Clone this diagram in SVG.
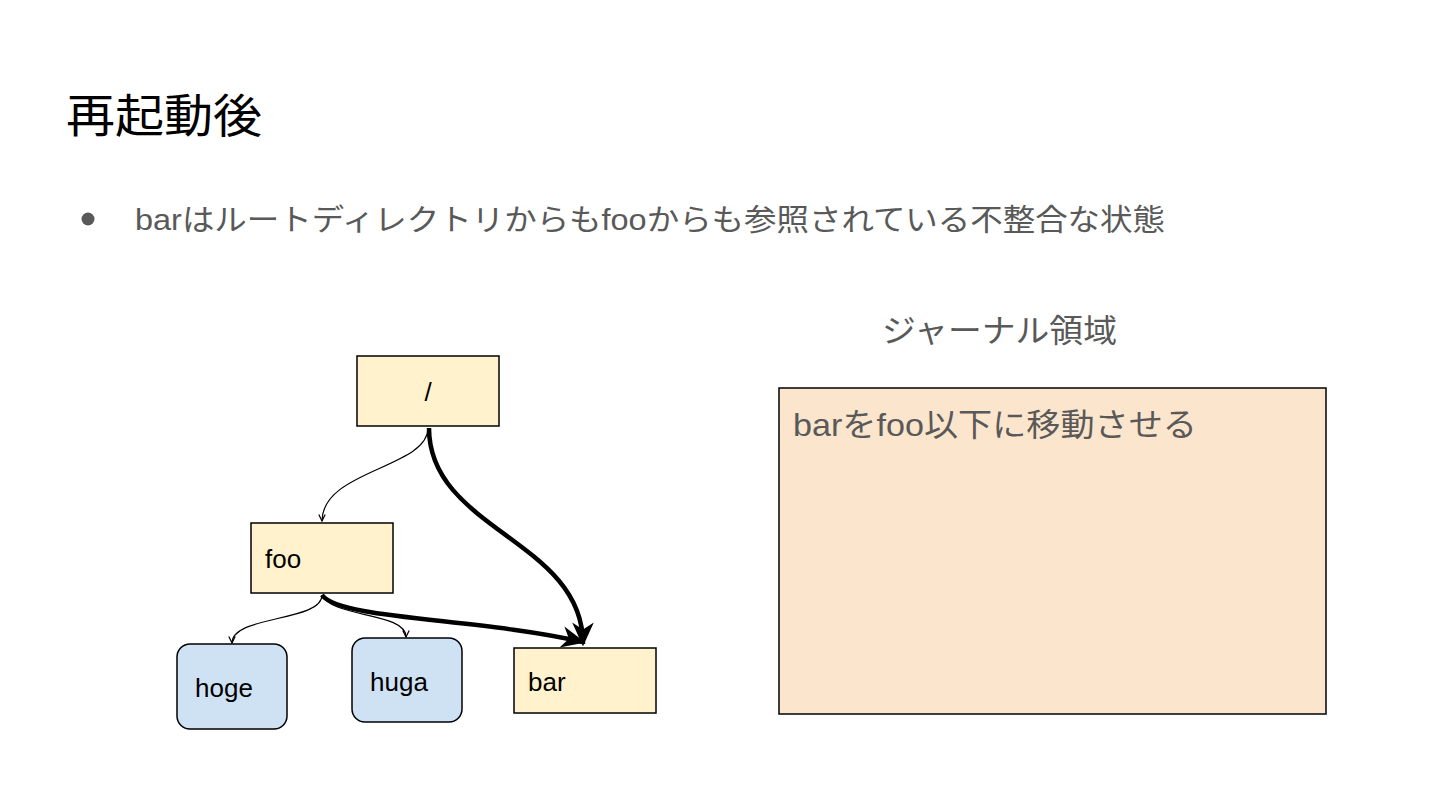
<svg xmlns="http://www.w3.org/2000/svg" width="1440" height="810" viewBox="0 0 1440 810">
<style>
text{font-family:"Liberation Sans","Noto Sans CJK JP",sans-serif}
.box{fill:#fff2cc;stroke:#000;stroke-width:1.5}
.rbox{fill:#cfe2f3;stroke:#000;stroke-width:1.5}
.lbl{font-size:26px;fill:#000}
.thin{fill:none;stroke:#000;stroke-width:1.2}
.thick{fill:none;stroke:#000;stroke-width:4.5}
.grey{fill:#595959}
</style>
<defs>
<marker id="aThin" viewBox="0 0 10 10" refX="9" refY="5" markerWidth="8" markerHeight="8" markerUnits="userSpaceOnUse" orient="auto">
<path d="M1,1 L9,5 L1,9" fill="none" stroke="#000" stroke-width="1.5"/>
</marker>
<marker id="aThick" viewBox="0 0 10 10" refX="9" refY="5" markerWidth="24" markerHeight="24" markerUnits="userSpaceOnUse" orient="auto">
<path d="M0,0.5 L10,5 L0,9.5 L3,5 Z" fill="#000"/>
</marker>
</defs>
<rect width="1440" height="810" fill="#fff"/>
<text x="66" y="132" font-size="46" fill="#000" textLength="196" lengthAdjust="spacingAndGlyphs">再起動後</text>
<circle cx="88" cy="219" r="6.5" class="grey"/>
<text x="135" y="230" font-size="30" class="grey" textLength="1030" lengthAdjust="spacingAndGlyphs">barはルートディレクトリからもfooからも参照されている不整合な状態</text>
<text x="882" y="342" font-size="32" class="grey" textLength="235" lengthAdjust="spacingAndGlyphs">ジャーナル領域</text>
<g id="journal">
<rect x="779" y="388" width="547" height="326" fill="#fce5cd" stroke="#000" stroke-width="1.5"/>
<text x="793" y="436" font-size="32" class="grey" textLength="404" lengthAdjust="spacingAndGlyphs">barをfoo以下に移動させる</text>
</g>
<g id="connectors">
<path class="thin" d="M428,428 C428,468 322,470 322,521" marker-end="url(#aThin)"/>
<path class="thick" d="M429,428 C429,530 583,540 583,644" marker-end="url(#aThick)"/>
<path class="thin" d="M322,595 C322,622 232,615 232,643" marker-end="url(#aThin)"/>
<path class="thin" d="M322,595 C332,618 406,612 406,637" marker-end="url(#aThin)"/>
<path class="thick" d="M322,595 C340,620 480,618 583,642" marker-end="url(#aThick)"/>
</g>
<g id="root">
<rect class="box" x="357" y="356" width="142" height="70"/>
<text class="lbl" x="428" y="401" text-anchor="middle">/</text>
</g>
<g id="foo">
<rect class="box" x="251" y="523" width="142" height="70"/>
<text class="lbl" x="265" y="568">foo</text>
</g>
<g id="bar">
<rect class="box" x="514" y="648" width="142" height="65"/>
<text class="lbl" x="528" y="691">bar</text>
</g>
<g id="hoge">
<rect class="rbox" x="177" y="644" width="110" height="85" rx="13"/>
<text class="lbl" x="195" y="697">hoge</text>
</g>
<g id="huga">
<rect class="rbox" x="352" y="638" width="110" height="84" rx="13"/>
<text class="lbl" x="370" y="691">huga</text>
</g>
</svg>
